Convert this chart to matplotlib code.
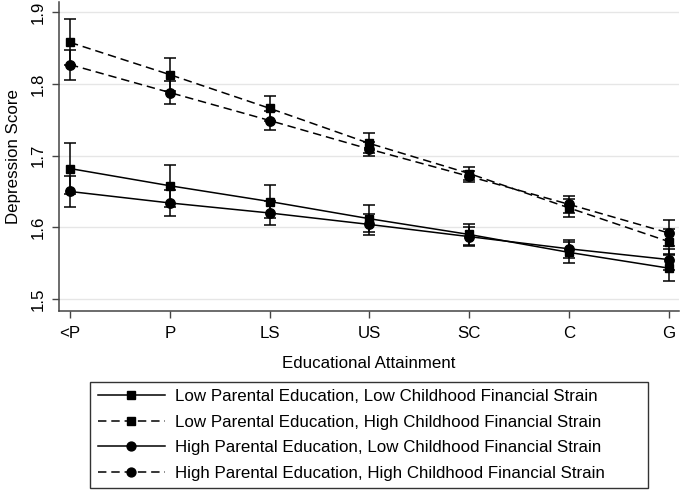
import matplotlib
matplotlib.use("Agg")
import matplotlib.pyplot as plt
from matplotlib.lines import Line2D
import numpy as np

plt.rcParams['font.family'] = ['Liberation Sans', 'DejaVu Sans']

categories = ["<P", "P", "LS", "US", "SC", "C", "G"]

labels = [
    "Low Parental Education, Low Childhood Financial Strain",
    "Low Parental Education, High Childhood Financial Strain",
    "High Parental Education, Low Childhood Financial Strain",
    "High Parental Education, High Childhood Financial Strain",
]

low_pe_low_fs = [1.682, 1.658, 1.636, 1.612, 1.590, 1.565, 1.543]
low_pe_high_fs = [1.858, 1.813, 1.766, 1.717, 1.675, 1.627, 1.580]
high_pe_low_fs = [1.650, 1.634, 1.620, 1.604, 1.587, 1.570, 1.555]
high_pe_high_fs = [1.827, 1.788, 1.749, 1.709, 1.671, 1.632, 1.592]

err_low_pe_low_fs = [0.035, 0.029, 0.023, 0.019, 0.014, 0.015, 0.018]
err_low_pe_high_fs = [0.032, 0.023, 0.017, 0.014, 0.009, 0.013, 0.017]
err_high_pe_low_fs = [0.022, 0.018, 0.017, 0.015, 0.013, 0.013, 0.015]
err_high_pe_high_fs = [0.021, 0.016, 0.013, 0.010, 0.008, 0.012, 0.018]

series = [
    (low_pe_low_fs, err_low_pe_low_fs, 's', '-'),
    (low_pe_high_fs, err_low_pe_high_fs, 's', '--'),
    (high_pe_low_fs, err_high_pe_low_fs, 'o', '-'),
    (high_pe_high_fs, err_high_pe_high_fs, 'o', '--'),
]

FS = 12.2
W, H = 683, 491
fig = plt.figure(figsize=(W / 100, H / 100), dpi=100)
ax = fig.add_axes([59.3 / W, 1 - 310.7 / H, (679 - 59.3) / W, (310.7 - 1.5) / H])

x = np.arange(len(categories))
lw = 1.1
dash = (5.5, 3.2)
handles = []
for (vals, errs, mk, ls), lab in zip(series, labels):
    ax.errorbar(x, vals, yerr=errs, fmt='none', ecolor='black', elinewidth=lw,
                capsize=4.3, capthick=lw, zorder=3)
    line, = ax.plot(x, vals, color='black', lw=lw, linestyle=ls, marker=mk,
                    markersize=6.4 if mk == 's' else 6.8, markerfacecolor='black',
                    markeredgecolor='black', zorder=4)
    if ls == '--':
        line.set_dashes(dash)
    h = Line2D([], [], color='black', lw=lw, linestyle=ls, marker=mk,
               markersize=6.0 if mk == 's' else 6.4)
    if ls == '--':
        h.set_dashes(dash)
    handles.append(h)

ax.set_xlim(-0.107, 6.1)
ax.set_ylim(1.4837, 1.915)
ax.set_xticks(x)
ax.set_xticklabels(categories, fontsize=FS)
ax.set_yticks([1.5, 1.6, 1.7, 1.8, 1.9])
ax.set_yticklabels(["1.5", "1.6", "1.7", "1.8", "1.9"], fontsize=FS,
                   rotation=90, va='center')
ax.grid(axis='y', color='#e6e6e6', lw=1.0)
ax.set_axisbelow(True)
for s in ['top', 'right']:
    ax.spines[s].set_visible(False)
for s in ['left', 'bottom']:
    ax.spines[s].set_color('#444444')
    ax.spines[s].set_linewidth(1.1)
ax.tick_params(axis='both', direction='out', length=5, width=1.0, color='#444444',
               labelcolor='black')
ax.tick_params(axis='x', pad=6)
ax.tick_params(axis='y', pad=5)

ax.set_xlabel("Educational Attainment", fontsize=FS, labelpad=11)
ax.set_ylabel("Depression Score", fontsize=FS, labelpad=7)

leg = fig.legend(handles, labels, loc='upper left',
                 bbox_to_anchor=(90 / W, 1 - 381.7 / H, (648 - 90) / W, 0.0),
                 mode='expand', frameon=True, fancybox=False, fontsize=FS,
                 handlelength=3.95, handletextpad=0.62, labelspacing=0.62,
                 borderpad=0.45, borderaxespad=0, numpoints=1)
leg.get_frame().set_edgecolor('black')
leg.get_frame().set_linewidth(1.0)

fig.savefig("out.png", dpi=100)
